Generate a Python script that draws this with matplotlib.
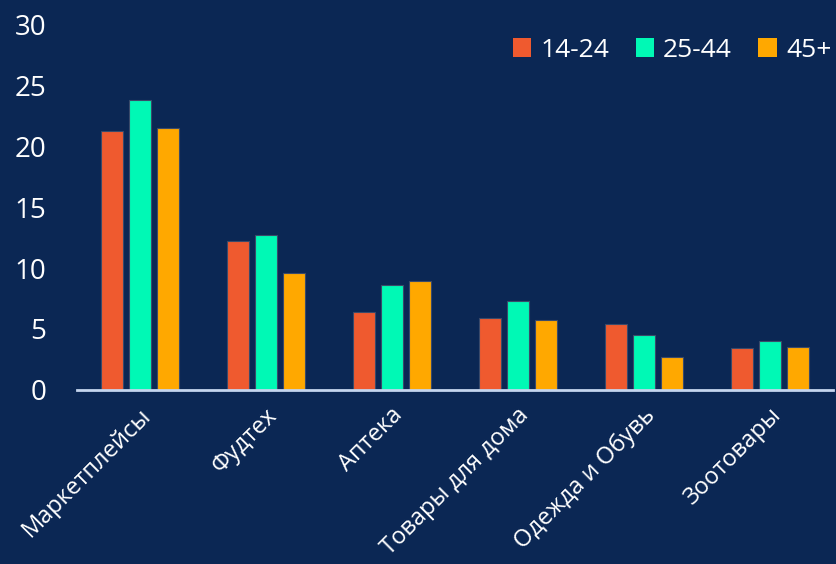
import matplotlib
matplotlib.use("Agg")
import matplotlib.pyplot as plt
import numpy as np

plt.rcParams['font.family'] = ['Open Sans', 'DejaVu Sans']

# data
categories = ['Маркетплейсы', 'Фудтех', 'Аптека', 'Товары для дома', 'Одежда и Обувь', 'Зоотовары']
groups = ['14-24', '25-44', '45+']
v_14_24 = [21.3, 12.2, 6.4, 5.9, 5.4, 3.45]
v_25_44 = [23.8, 12.7, 8.6, 7.3, 4.5, 4.0]
v_45 = [21.5, 9.6, 8.9, 5.7, 2.7, 3.5]
colors = ['#EF5A2F', '#00F9B5', '#FFA800']

bg = '#0B2754'
fig = plt.figure(figsize=(8.36, 5.64), dpi=100, facecolor=bg)
ax = fig.add_axes([0.092, 0.309, 0.904, 0.647], facecolor=bg)

x = np.arange(len(categories))
width = 0.175
step = 0.222
for i, (vals, name) in enumerate(zip([v_14_24, v_25_44, v_45], groups)):
    ax.bar(x + (i - 1) * step, vals, width, color=colors[i], label=name,
           edgecolor='#3a4a6a', linewidth=0.8, zorder=2)

ax.set_xlim(-0.5, len(categories) - 0.5)
ax.set_ylim(0, 30)
ax.set_yticks(range(0, 31, 5))
ax.tick_params(axis='y', length=0, pad=22, labelsize=20, labelcolor='white')
ax.tick_params(axis='x', length=0, pad=16)
ax.set_xticks(x + 0.06)
ax.set_xticklabels(categories, rotation=45, ha='right', va='center',
                   rotation_mode='anchor', fontsize=17, color='white')

for side in ['top', 'right', 'left']:
    ax.spines[side].set_visible(False)
ax.spines['bottom'].set_color('#C5D5EE')
ax.spines['bottom'].set_linewidth(2)

leg = ax.legend(loc='upper right', bbox_to_anchor=(1.03, 1.03), ncol=3, frameon=False,
                fontsize=19, handlelength=0.7, handleheight=0.7, handletextpad=0.35,
                columnspacing=1.0, labelcolor='white')
for h in leg.legend_handles:
    h.set_edgecolor('none')

fig.savefig('out.png', dpi=100, facecolor=bg)
